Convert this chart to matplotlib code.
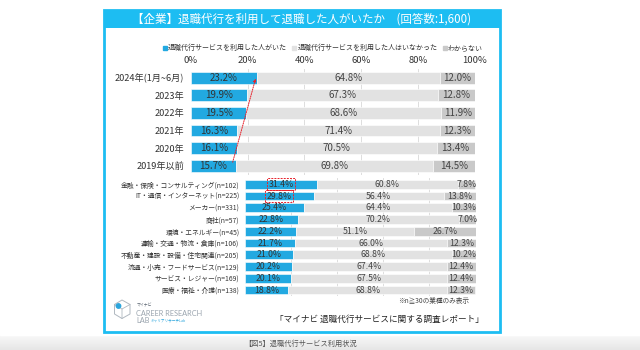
import matplotlib
matplotlib.use("Agg")
import matplotlib.pyplot as plt
import numpy as np
from matplotlib.patches import Rectangle, Polygon
from matplotlib.lines import Line2D

plt.rcParams['font.family'] = ['Noto Sans CJK JP', 'DejaVu Sans']

# ---------------- data ----------------
title = "【企業】退職代行を利用して退職した人がいたか　(回答数:1,600)"
legend_labels = ["退職代行サービスを利用した人がいた", "退職代行サービスを利用した人はいなかった", "わからない"]

year_cats = ["2024年(1月~6月)", "2023年", "2022年", "2021年", "2020年", "2019年以前"]
year_used = [23.2, 19.9, 19.5, 16.3, 16.1, 15.7]
year_not = [64.8, 67.3, 68.6, 71.4, 70.5, 69.8]
year_unk = [12.0, 12.8, 11.9, 12.3, 13.4, 14.5]

ind_cats = ["金融・保険・コンサルティング(n=102)", "IT・通信・インターネット(n=225)", "メーカー(n=331)",
            "商社(n=57)", "環境・エネルギー(n=45)", "運輸・交通・物流・倉庫(n=106)",
            "不動産・建設・設備・住宅関連(n=205)", "流通・小売・フードサービス(n=129)",
            "サービス・レジャー(n=169)", "医療・福祉・介護(n=138)"]
ind_used = [31.4, 29.8, 25.4, 22.8, 22.2, 21.7, 21.0, 20.2, 20.1, 18.8]
ind_not = [60.8, 56.4, 64.4, 70.2, 51.1, 66.0, 68.8, 67.4, 67.5, 68.8]
ind_unk = [7.8, 13.8, 10.3, 7.0, 26.7, 12.3, 10.2, 12.4, 12.4, 12.3]

xticks = [0, 20, 40, 60, 80, 100]
xtick_labels = ["0%", "20%", "40%", "60%", "80%", "100%"]
highlight = [0, 1]

note1 = "※n≧30の業種のみ表示"
note2 = "「マイナビ 退職代行サービスに関する調査レポート」"
caption = "【図5】退職代行サービス利用状況"

# ---------------- style ----------------
BLUE = "#22A9E1"
LGRAY = "#E2E2E2"
DGRAY = "#C9C9C9"
CYAN = "#1DBDF2"
TXT = "#333333"

W, H = 640, 350
fig = plt.figure(figsize=(6.4, 3.5), dpi=100)
fig.patch.set_facecolor("white")

# background / decoration axes in pixel coordinates
bg = fig.add_axes([0, 0, 1, 1], zorder=0)
bg.set_xlim(0, W)
bg.set_ylim(H, 0)
bg.axis("off")

grad = np.linspace(0, 1, 50).reshape(-1, 1)
bg.imshow(grad, extent=[0, W, H, 334], cmap=matplotlib.colors.LinearSegmentedColormap.from_list("g", ["#FAFAFA", "#E6E6E6"]),
          aspect="auto", zorder=0)
bg.add_patch(Rectangle((0, 333), W, 1.5, color="white", zorder=0.5))
bg.set_xlim(0, W)
bg.set_ylim(H, 0)

bg.add_patch(Rectangle((103.5, 10), 396, 17.5, facecolor=CYAN, edgecolor="none", zorder=1))
bg.add_patch(Rectangle((103.5, 10), 396, 322, facecolor="none", edgecolor=CYAN, lw=2.0, zorder=2))
bg.text(301, 19, title, color="white", fontsize=8.3, ha="center", va="center", zorder=3)

bg.text(469, 301, note1, fontsize=4.8, ha="right", va="center", color="#444444")
bg.text(484, 319, note2, fontsize=6.2, ha="right", va="center", color="#222222")
bg.text(301, 344, caption, fontsize=5.2, ha="center", va="center", color="#555555")

# logo
hexpts = np.array([[122, 300], [130, 304.5], [130, 314], [122, 318.5], [114.5, 314], [114.5, 304.5]])
bg.add_patch(Polygon(hexpts, closed=True, fill=False, ec="#B0B8C0", lw=0.7))
bg.plot([122, 122, 130], [318.5, 309, 304.5], color="#B0B8C0", lw=0.6)
bg.plot([122, 114.5], [309, 304.5], color="#B0B8C0", lw=0.6)
bg.add_patch(matplotlib.patches.Circle((118.5, 306), 2.2, color="#2BA5DC", zorder=3))
bg.text(137, 305, "マイナビ", fontsize=2.8, color="#5A6470", va="center", ha="left")
bg.text(136.5, 313, "CAREER RESEARCH", fontsize=5.3, color="#9AA4AE", va="center", ha="left", family="Lato")
bg.text(136.5, 320.5, "LAB", fontsize=5.3, color="#9AA4AE", va="center", ha="left", family="Lato")
bg.text(151, 320.5, "キャリアリサーチLab", fontsize=2.6, color="#2BA5DC", va="center", ha="left")


def px_axes(x0, x1, y0, y1):
    return fig.add_axes([x0 / W, 1 - y1 / H, (x1 - x0) / W, (y1 - y0) / H], zorder=2)


def draw(ax, cats, used, notu, unk, height, fs_lab, fs_val, pad):
    n = len(cats)
    y = np.arange(n)
    ax.set_facecolor("none")
    for xv in xticks[1:-1]:
        ax.axvline(xv, color="#D8D8D8", lw=0.6, zorder=0)
    ax.barh(y, used, height=height, color=BLUE, edgecolor="white", lw=0.4, zorder=2)
    left2 = np.array(used)
    ax.barh(y, notu, left=left2, height=height, color=LGRAY, edgecolor="white", lw=0.4, zorder=2)
    left3 = left2 + np.array(notu)
    ax.barh(y, unk, left=left3, height=height, color=DGRAY, edgecolor="white", lw=0.4, zorder=2)
    texts = []
    for i in range(n):
        t = ax.text(used[i] / 2, i, f"{used[i]:.1f}%", ha="center", va="center", fontsize=fs_val, color=TXT, zorder=4)
        texts.append(t)
        ax.text(left2[i] + notu[i] / 2, i, f"{notu[i]:.1f}%", ha="center", va="center", fontsize=fs_val, color="#444444", zorder=4)
        ax.text(left3[i] + unk[i] / 2, i, f"{unk[i]:.1f}%", ha="center", va="center", fontsize=fs_val, color="#444444", zorder=4)
    ax.set_xlim(0, 100)
    ax.set_ylim(n - 0.5, -0.5)
    ax.set_yticks(y)
    ax.set_yticklabels(cats, fontsize=fs_lab, color=TXT)
    ax.tick_params(axis="y", length=0, pad=pad)
    for s in ax.spines.values():
        s.set_visible(False)
    return texts


ax1 = px_axes(191, 474.5, 68.9, 174.5)
t1 = draw(ax1, year_cats, year_used, year_not, year_unk, 0.68, 6.6, 7.0, 5)
ax1.xaxis.tick_top()
ax1.set_xticks(xticks)
ax1.set_xticklabels(xtick_labels, fontsize=6.8, color=TXT)
ax1.tick_params(axis="x", length=0, pad=3)

# red dotted trend arrow from oldest to newest
ax1.annotate("", xy=(year_used[0] - 0.4, 0.05), xytext=(year_used[-1] - 1.0, len(year_used) - 1 - 0.2),
             arrowprops=dict(arrowstyle="-|>", color="#E8202A", lw=0.7, ls=(0, (1.2, 1.2)),
                             mutation_scale=4, shrinkA=0, shrinkB=0), zorder=5)

ax2 = px_axes(245, 475.5, 178.4, 295.9)
t2 = draw(ax2, ind_cats, ind_used, ind_not, ind_unk, 0.76, 4.9, 6.3, 4)
ax2.set_xticks(xticks)
ax2.set_xticklabels([])
ax2.tick_params(axis="x", length=0)
for i in highlight:
    t2[i].set_bbox(dict(boxstyle="square,pad=0.15", fc="none", ec="#E8202A", ls=(0, (2, 1.2)), lw=0.7))

# legend
handles = [Line2D([], [], marker="s", ls="none", color=BLUE, markersize=2.2),
           Line2D([], [], marker="s", ls="none", color=LGRAY, markersize=2.2),
           Line2D([], [], marker="s", ls="none", color=DGRAY, markersize=2.2)]
fig.legend(handles, legend_labels, loc="center", bbox_to_anchor=(323 / W, 1 - 48 / H), ncol=3,
           fontsize=5.0, frameon=False, handlelength=0.5, handletextpad=0.2, columnspacing=0.8,
           labelcolor="#333333")

fig.savefig("out.png", dpi=100, facecolor="white")
